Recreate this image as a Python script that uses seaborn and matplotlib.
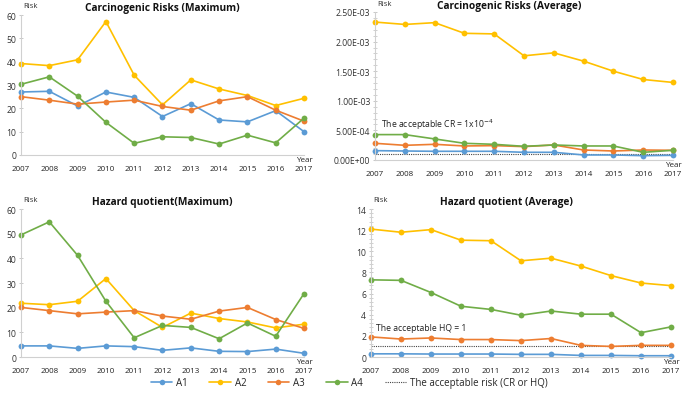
import numpy as np
import pandas as pd
import seaborn as sns
import matplotlib.pyplot as plt
from matplotlib.lines import Line2D
from matplotlib.ticker import AutoMinorLocator
from matplotlib.transforms import offset_copy

years = list(range(2007, 2018))
series = ["A1", "A2", "A3", "A4"]
colors = ["#5B9BD5", "#FFC000", "#ED7D31", "#70AD47"]

# Carcinogenic risks (maximum)
cr_max_a1 = [27.0, 27.3, 21.0, 27.0, 24.7, 16.5, 22.0, 15.0, 14.2, 19.0, 10.0]
cr_max_a2 = [39.2, 38.3, 40.8, 57.2, 34.2, 21.5, 32.2, 28.3, 25.5, 21.2, 24.3]
cr_max_a3 = [25.0, 23.5, 21.8, 22.7, 23.5, 20.8, 19.2, 23.2, 25.0, 19.2, 14.5]
cr_max_a4 = [30.3, 33.5, 25.2, 14.0, 5.0, 7.8, 7.5, 4.7, 8.5, 5.2, 15.8]

# Carcinogenic risks (average)
cr_avg_a1 = [1.58e-4, 1.52e-4, 1.47e-4, 1.47e-4, 1.47e-4, 1.30e-4, 1.30e-4, 8.5e-5, 8.5e-5, 7.3e-5, 7.9e-5]
cr_avg_a2 = [2.33e-3, 2.29e-3, 2.32e-3, 2.14e-3, 2.13e-3, 1.76e-3, 1.81e-3, 1.67e-3, 1.50e-3, 1.36e-3, 1.31e-3]
cr_avg_a3 = [2.82e-4, 2.48e-4, 2.65e-4, 2.37e-4, 2.43e-4, 2.26e-4, 2.54e-4, 1.69e-4, 1.52e-4, 1.69e-4, 1.64e-4]
cr_avg_a4 = [4.29e-4, 4.29e-4, 3.56e-4, 2.82e-4, 2.65e-4, 2.31e-4, 2.54e-4, 2.37e-4, 2.37e-4, 1.30e-4, 1.64e-4]

# Hazard quotient (maximum)
hq_max_a1 = [4.5, 4.5, 3.5, 4.5, 4.2, 2.7, 3.7, 2.3, 2.2, 3.2, 1.5]
hq_max_a2 = [21.8, 21.2, 22.6, 31.8, 18.8, 12.0, 17.8, 15.6, 14.2, 11.8, 13.3]
hq_max_a3 = [20.1, 18.8, 17.5, 18.2, 18.8, 16.6, 15.3, 18.6, 20.1, 15.2, 11.6]
hq_max_a4 = [49.5, 54.8, 41.2, 22.6, 7.8, 12.8, 12.0, 7.4, 13.8, 8.4, 25.7]

# Hazard quotient (average)
hq_avg_a1 = [0.30, 0.30, 0.28, 0.28, 0.28, 0.25, 0.25, 0.15, 0.15, 0.12, 0.12]
hq_avg_a2 = [12.1, 11.8, 12.05, 11.05, 11.0, 9.1, 9.35, 8.6, 7.7, 7.0, 6.75]
hq_avg_a3 = [1.9, 1.7, 1.8, 1.65, 1.65, 1.55, 1.75, 1.1, 1.0, 1.1, 1.1]
hq_avg_a4 = [7.3, 7.25, 6.1, 4.8, 4.5, 3.95, 4.35, 4.05, 4.05, 2.3, 2.85]

cr_limit = 1e-4
hq_limit = 1

cr_avg_ticks = [0, 5e-4, 1e-3, 1.5e-3, 2e-3, 2.5e-3]
cr_avg_labels = ["0.00E+00", "5.00E-04", "1.00E-03", "1.50E-03", "2.00E-03", "2.50E-03"]

sns.set_theme(style="white")
plt.rcParams['font.family'] = ['Open Sans', 'DejaVu Sans']

W, H = 685, 402
fig = plt.figure(figsize=(W / 100, H / 100), dpi=100)


def frac(x0, y_top, x1, y_bot):
    return [x0 / W, 1 - y_bot / H, (x1 - x0) / W, (y_bot - y_top) / H]


def make_df(a1, a2, a3, a4):
    frames = []
    for name, vals in zip(series, [a1, a2, a3, a4]):
        frames.append(pd.DataFrame({"year": years, "risk": vals, "series": name}))
    return pd.concat(frames, ignore_index=True)


def panel(rect, df, ylim, yticks, ylabels, title, title_x, limit=None, minor=False):
    ax = fig.add_axes(frac(*rect))
    sns.lineplot(data=df, x="year", y="risk", hue="series", palette=colors,
                 marker="o", markersize=4.2, markeredgewidth=0, linewidth=1.2,
                 legend=False, ax=ax, clip_on=False)
    if limit is not None:
        ax.plot([2007, 2017], [limit, limit], color="#444444", linestyle=(0, (1, 1)),
                linewidth=0.8, zorder=1)
    ax.set_xlim(2007, 2017)
    ax.set_ylim(*ylim)
    ax.set_yticks(yticks)
    ax.set_yticklabels(ylabels, fontsize=6.2, color="#333333")
    ax.set_xticks(years)
    ax.set_xticklabels([str(y) for y in years], fontsize=5.8, color="#222222")
    ax.set_xlabel("")
    ax.set_ylabel("")
    for s in ["top", "right"]:
        ax.spines[s].set_visible(False)
    for s in ["left", "bottom"]:
        ax.spines[s].set_color("#d0d0d0")
        ax.spines[s].set_linewidth(0.8)
    ax.tick_params(axis="x", length=0, pad=7)
    ax.tick_params(axis="y", which="major", length=3, direction="inout",
                   color="#c8c8c8", width=0.7, pad=2, left=True)
    if minor:
        ax.yaxis.set_minor_locator(AutoMinorLocator(5))
        ax.tick_params(axis="y", which="minor", length=2.5, direction="inout",
                       color="#c8c8c8", width=0.6, left=True)
    up7 = offset_copy(ax.transAxes, fig=fig, y=7, units="dots")
    ax.text(title_x, 1.0, title, transform=up7, ha="center", va="center",
            fontsize=7.3, fontweight="bold", color="#111111")
    up9 = offset_copy(ax.transAxes, fig=fig, x=2, y=9, units="dots")
    ax.text(0.0, 1.0, "Risk", transform=up9, ha="left", va="center",
            fontsize=5.6, color="#333333")
    ax.text(1.0, -0.01, "Year", transform=ax.transAxes, ha="center", va="top",
            fontsize=5.8, color="#222222")
    return ax


panel((21, 16, 304, 156), make_df(cr_max_a1, cr_max_a2, cr_max_a3, cr_max_a4),
      (0, 60), list(range(0, 61, 10)), [str(v) for v in range(0, 61, 10)],
      "Carcinogenic Risks (Maximum)", 0.5)

ax2 = panel((375, 13, 673, 161), make_df(cr_avg_a1, cr_avg_a2, cr_avg_a3, cr_avg_a4),
            (0, 2.5e-3), cr_avg_ticks, cr_avg_labels,
            "Carcinogenic Risks (Average)", 0.45, limit=cr_limit, minor=True)
ax2.text(2007.2, 4.9e-4, "The acceptable CR = 1x10$^{-4}$", fontsize=6.2,
         color="#222222", ha="left", va="bottom")

panel((21, 210, 304, 358), make_df(hq_max_a1, hq_max_a2, hq_max_a3, hq_max_a4),
      (0, 60), list(range(0, 61, 10)), [str(v) for v in range(0, 61, 10)],
      "Hazard quotient(Maximum)", 0.5)

ax4 = panel((371, 210, 671, 358), make_df(hq_avg_a1, hq_avg_a2, hq_avg_a3, hq_avg_a4),
            (0, 14), list(range(0, 15, 2)), [str(v) for v in range(0, 15, 2)],
            "Hazard quotient (Average)", 0.45, limit=hq_limit, minor=True)
ax4.text(2007.15, 2.4, "The acceptable HQ = 1", fontsize=6.2,
         color="#222222", ha="left", va="bottom")

handles = [Line2D([0], [0], color=c, marker="o", markersize=4, markeredgewidth=0,
                  linewidth=1.2) for c in colors]
handles.append(Line2D([0], [0], color="#444444", linestyle=(0, (1, 1)), linewidth=0.8))
labels = series + ["The acceptable risk (CR or HQ)"]
fig.legend(handles, labels, loc="center", bbox_to_anchor=(0.51, 0.045), ncol=5,
           frameon=False, fontsize=7, handlelength=2.2, columnspacing=2.2,
           handletextpad=0.4)

fig.savefig("out.png", dpi=100)
